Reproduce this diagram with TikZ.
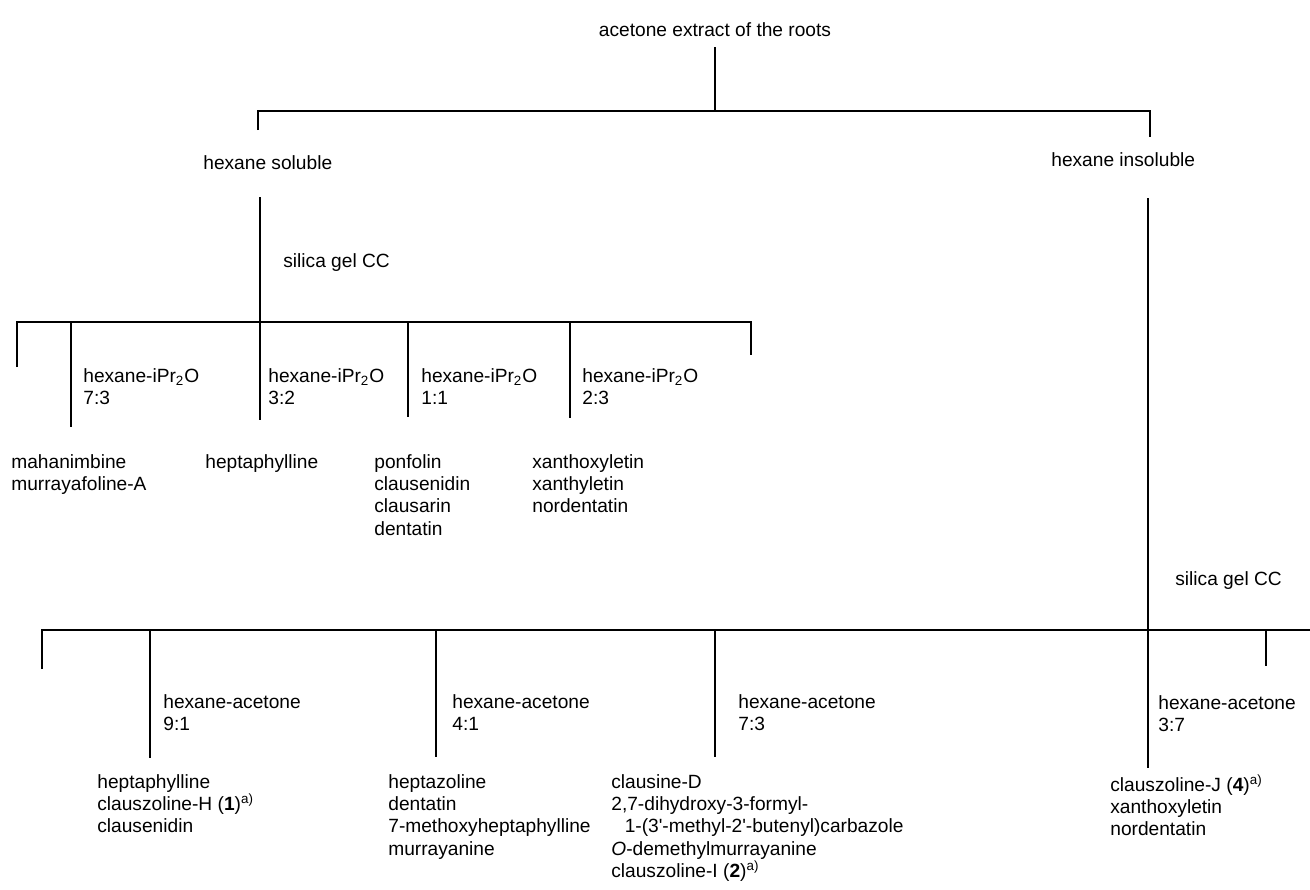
\documentclass[tikz,border=0pt]{standalone}
\usepackage{fontspec}
\setmainfont{Liberation Sans}
\newcommand{\iprO}{hexane-iPr\textsubscript{2}O}
\newcommand{\noteA}{\textsuperscript{a)}}
\begin{document}
\begin{tikzpicture}[x=0.2mm,y=-0.2mm,
    every node/.style={inner sep=0pt,font=\fontsize{10.9}{12.7}\selectfont},
    txt/.style={anchor=west},
    lst/.style={anchor=north west,align=left},
    br/.style={line width=1pt}]
    \useasboundingbox (0,0) rectangle (1310,890);
    % extract and first split
    \node (root) at (715,30) {acetone extract of the roots};
    \node[txt] (sol) at (203,163) {hexane soluble};
    \node[txt] (insol) at (1051,160) {hexane insoluble};
    \coordinate (rootfoot) at (715,47);
    \coordinate (split) at (715,111);
    \coordinate (soltop) at (258,130);
    \coordinate (insoltop) at (1150,137);
    \draw[br] (rootfoot) -- (split);
    \draw[br] (soltop) |- (split) -| (insoltop);
    % hexane soluble part
    \node[txt] (cc1) at (283,263) {silica gel CC};
    \coordinate (solfoot) at (260,197);
    \coordinate (bar1) at (260,322);
    \draw[br] (solfoot) -- (bar1);
    \coordinate (a0) at (17,367);
    \coordinate (a1) at (71,427);
    \coordinate (a2) at (260,420);
    \coordinate (a3) at (408,417);
    \coordinate (a4) at (570,418);
    \coordinate (a5) at (751,355);
    \draw[br] (a0) |- (bar1) -| (a5);
    \foreach \p in {a1,a2,a3,a4}
        \draw[br] (\p |- bar1) -- (\p);
    \node[lst] (e1) at (83,368) {\iprO\\7:3};
    \node[lst] (e2) at (268,368) {\iprO\\3:2};
    \node[lst] (e3) at (421,368) {\iprO\\1:1};
    \node[lst] (e4) at (582,368) {\iprO\\2:3};
    \node[lst] (f1) at (11,454) {mahanimbine\\murrayafoline-A};
    \node[lst] (f2) at (205,454) {heptaphylline};
    \node[lst] (f3) at (374,454) {ponfolin\\clausenidin\\clausarin\\dentatin};
    \node[lst] (f4) at (532,454) {xanthoxyletin\\xanthyletin\\nordentatin};
    % hexane insoluble part
    \node[txt] (cc2) at (1175,581) {silica gel CC};
    \coordinate (insolfoot) at (1148,198);
    \coordinate (bar2) at (1148,630);
    \coordinate (b0) at (42,669);
    \coordinate (b1) at (150,758);
    \coordinate (b2) at (436,757);
    \coordinate (b3) at (715,757);
    \coordinate (b4) at (1148,768);
    \coordinate (b5) at (1266,666);
    \coordinate (bend) at (1310,630);
    \draw[br] (insolfoot) -- (b4);
    \draw[br] (b0) |- (bar2) -- (bend);
    \foreach \p in {b1,b2,b3,b5}
        \draw[br] (\p |- bar2) -- (\p);
    \node[lst] (g1) at (163,694) {hexane-acetone\\9:1};
    \node[lst] (g2) at (452,694) {hexane-acetone\\4:1};
    \node[lst] (g3) at (738,694) {hexane-acetone\\7:3};
    \node[lst] (g4) at (1158,695) {hexane-acetone\\3:7};
    \node[lst] (h1) at (97,774) {heptaphylline\\clauszoline-H (\textbf{1})\noteA\\clausenidin};
    \node[lst] (h2) at (388,774) {heptazoline\\dentatin\\7-methoxyheptaphylline\\murrayanine};
    \node[lst] (h3) at (611,774) {clausine-D\\2,7-dihydroxy-3-formyl-\\
        \hspace*{0.7em}1-(3\textquotesingle-methyl-2\textquotesingle-butenyl)carbazole\\
        \textit{O}-demethylmurrayanine\\clauszoline-I (\textbf{2})\noteA};
    \node[lst] (h4) at (1110,774) {clauszoline-J (\textbf{4})\noteA\\xanthoxyletin\\nordentatin};
\end{tikzpicture}
\end{document}
